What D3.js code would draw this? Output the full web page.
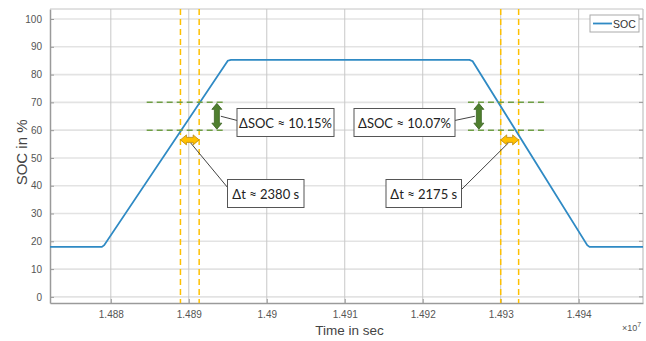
<!DOCTYPE html>
<html>
<head>
<meta charset="utf-8">
<script src="https://cdn.jsdelivr.net/npm/d3@7"></script>
<style>
  body { margin: 0; background: #fff; }
  svg { display: block; }
</style>
</head>
<body>
<div id="chart"></div>
<script>
// SOC curve, time in seconds
const socTime = [14872200, 14878850, 14879150, 14895000, 14895400, 14926000, 14926400, 14941100, 14941400, 14948250];
const socValue = [18.0, 18.0, 18.6, 85.0, 85.3, 85.3, 84.8, 18.6, 18.0, 18.0];

const xTicks = [14880000, 14890000, 14900000, 14910000, 14920000, 14930000, 14940000];
const xTickLabels = ['1.488', '1.489', '1.49', '1.491', '1.492', '1.493', '1.494'];
const yTicks = [0, 10, 20, 30, 40, 50, 60, 70, 80, 90, 100];

// measurement markers
const dtLines = [14888930, 14891330, 14930000, 14932300];
const socLevels = [60, 70];
const levelSpans = [[14884600, 14894640], [14925800, 14935900]];
const socArrowTimes = [14893600, 14927200];
const dtArrowSpans = [[14888930, 14891330], [14930000, 14932300]];
const labelSoc = ['ΔSOC ≈ 10.15%', 'ΔSOC ≈ 10.07%'];
const labelDt = ['Δt ≈ 2380 s', 'Δt ≈ 2175 s'];

const width = 646, height = 341;
const margin = { top: 9, right: 3, bottom: 38, left: 50 };

const x = d3.scaleLinear()
  .domain([14872200, 14948250])
  .range([margin.left, width - margin.right]);

const y = d3.scaleLinear()
  .domain([-2.2, 103.6])
  .range([height - margin.bottom, margin.top]);

const svg = d3.select('#chart')
  .append('svg')
  .attr('width', width)
  .attr('height', height)
  .style('font-family', 'Liberation Sans, Arial, sans-serif');

// horizontal grid
svg.append('g')
  .selectAll('line')
  .data(yTicks)
  .enter()
  .append('line')
  .attr('x1', margin.left)
  .attr('x2', width - margin.right)
  .attr('y1', d => y(d))
  .attr('y2', d => y(d))
  .attr('stroke', '#e3e3e3')
  .attr('stroke-width', 1.6);

// vertical grid
svg.append('g')
  .selectAll('line')
  .data(xTicks)
  .enter()
  .append('line')
  .attr('x1', d => x(d))
  .attr('x2', d => x(d))
  .attr('y1', margin.top)
  .attr('y2', height - margin.bottom)
  .attr('stroke', '#c8c8c8')
  .attr('stroke-width', 1);

// axes
const xAxis = d3.axisBottom(x)
  .tickValues(xTicks)
  .tickFormat((d, i) => xTickLabels[i])
  .tickSizeInner(-4)
  .tickSizeOuter(0)
  .tickPadding(8);

const yAxis = d3.axisLeft(y)
  .tickValues(yTicks)
  .tickSizeInner(-4)
  .tickSizeOuter(0)
  .tickPadding(8);

const gx = svg.append('g')
  .attr('transform', `translate(0,${height - margin.bottom})`)
  .call(xAxis);
const gy = svg.append('g')
  .attr('transform', `translate(${margin.left},0)`)
  .call(yAxis);

[gx, gy].forEach(g => {
  g.select('.domain').attr('stroke', '#9a9a9a').attr('stroke-width', 1.5);
  g.selectAll('.tick line').attr('stroke', '#9a9a9a');
  g.selectAll('.tick text').attr('fill', '#555').style('font-size', '10px');
});

// right and top box edges
svg.append('line')
  .attr('x1', width - margin.right).attr('x2', width - margin.right)
  .attr('y1', margin.top).attr('y2', height - margin.bottom)
  .attr('stroke', '#b5b5b5');
svg.append('line')
  .attr('x1', margin.left).attr('x2', width - margin.right)
  .attr('y1', margin.top).attr('y2', margin.top)
  .attr('stroke', '#c4c4c4');
svg.append('g')
  .selectAll('line')
  .data(yTicks)
  .enter()
  .append('line')
  .attr('x1', width - margin.right - 4)
  .attr('x2', width - margin.right)
  .attr('y1', d => y(d))
  .attr('y2', d => y(d))
  .attr('stroke', '#9a9a9a');

// axis labels
svg.append('text')
  .attr('x', (margin.left + width - margin.right) / 2 + 3)
  .attr('y', 335)
  .attr('text-anchor', 'middle')
  .attr('fill', '#444')
  .style('font-size', '13.5px')
  .text('Time in sec');

svg.append('text')
  .attr('transform', `translate(27,${y(52)}) rotate(-90)`)
  .attr('text-anchor', 'middle')
  .attr('fill', '#444')
  .style('font-size', '15px')
  .text('SOC in %');

const mult = svg.append('text')
  .attr('x', 622)
  .attr('y', 331)
  .attr('fill', '#555')
  .style('font-size', '9px');
mult.append('tspan').text('×10');
mult.append('tspan').attr('dy', -4).style('font-size', '7px').text('7');

// yellow dashed time lines
svg.append('g')
  .selectAll('line')
  .data(dtLines)
  .enter()
  .append('line')
  .attr('x1', d => x(d))
  .attr('x2', d => x(d))
  .attr('y1', margin.top)
  .attr('y2', height - margin.bottom)
  .attr('stroke', '#ffc000')
  .attr('stroke-width', 1.5)
  .attr('stroke-dasharray', '6,4');

// SOC line
const soc = socTime.map((t, i) => ({ t: t, v: socValue[i] }));
svg.append('path')
  .datum(soc)
  .attr('fill', 'none')
  .attr('stroke', '#2f8ac4')
  .attr('stroke-width', 1.8)
  .attr('d', d3.line().x(d => x(d.t)).y(d => y(d.v)));

// green dashed SOC levels
levelSpans.forEach(span => {
  socLevels.forEach(lv => {
    svg.append('line')
      .attr('x1', x(span[0]))
      .attr('x2', x(span[1]))
      .attr('y1', y(lv))
      .attr('y2', y(lv))
      .attr('stroke', '#6f9f45')
      .attr('stroke-width', 1.5)
      .attr('stroke-dasharray', '6,4');
  });
});

// leader lines (drawn before arrows and boxes)
function leader(x1, y1, x2, y2) {
  svg.append('line')
    .attr('x1', x1).attr('y1', y1)
    .attr('x2', x2).attr('y2', y2)
    .attr('stroke', '#444')
    .attr('stroke-width', 1);
}
leader(x(socArrowTimes[0]) + 4, y(65), 237, y(63.5));
leader(x(dtArrowSpans[0][0]) + 10, y(55.5), 228, 188);
leader(x(socArrowTimes[1]) - 4, y(65), 455, y(63.5));
leader(x(dtArrowSpans[1][1]) - 10, y(55.5), 461, 190);

// green vertical double arrow
function vArrow(t, v0, v1) {
  const cx = x(t), top = y(v1) + 1, bot = y(v0) - 1;
  const hw = 5, sw = 2.5, hh = 6;
  const pts = [
    [cx, top], [cx + hw, top + hh], [cx + sw, top + hh], [cx + sw, bot - hh],
    [cx + hw, bot - hh], [cx, bot], [cx - hw, bot - hh], [cx - sw, bot - hh],
    [cx - sw, top + hh], [cx - hw, top + hh]
  ];
  svg.append('polygon')
    .attr('points', pts.map(p => p.join(',')).join(' '))
    .attr('fill', '#4f7f2f')
    .attr('stroke', '#3b6322')
    .attr('stroke-width', 0.8);
}
socArrowTimes.forEach(t => vArrow(t, socLevels[0], socLevels[1]));

// yellow horizontal double arrow
function hArrow(t0, t1, v) {
  const l = x(t0), r = x(t1), cy = y(v);
  const hh = 5, sh = 2.5, hw = 6;
  const pts = [
    [l, cy], [l + hw, cy - hh], [l + hw, cy - sh], [r - hw, cy - sh],
    [r - hw, cy - hh], [r, cy], [r - hw, cy + hh], [r - hw, cy + sh],
    [l + hw, cy + sh], [l + hw, cy + hh]
  ];
  svg.append('polygon')
    .attr('points', pts.map(p => p.join(',')).join(' '))
    .attr('fill', '#ffc000')
    .attr('stroke', '#b8860b')
    .attr('stroke-width', 0.8);
}
dtArrowSpans.forEach(s => hArrow(s[0], s[1], 56.5));

// annotation boxes
function box(x0, y0, w, h, txt) {
  svg.append('rect')
    .attr('x', x0).attr('y', y0)
    .attr('width', w).attr('height', h)
    .attr('fill', '#fff')
    .attr('stroke', '#555')
    .attr('stroke-width', 1);
  svg.append('text')
    .attr('x', x0 + w / 2)
    .attr('y', y0 + h / 2 + 5)
    .attr('text-anchor', 'middle')
    .attr('fill', '#222')
    .style('font-family', 'Lato, Open Sans, sans-serif')
    .style('font-size', '13px')
    .text(txt);
}
box(237, 108.5, 97, 28, labelSoc[0]);
box(227.5, 179.5, 76.5, 28, labelDt[0]);
box(354, 108.5, 101, 28, labelSoc[1]);
box(386, 179.5, 75.5, 28, labelDt[1]);

// legend
svg.append('rect')
  .attr('x', 590).attr('y', 15)
  .attr('width', 49).attr('height', 17)
  .attr('fill', '#fff')
  .attr('stroke', '#aaa');
svg.append('line')
  .attr('x1', 593).attr('x2', 612)
  .attr('y1', 23.5).attr('y2', 23.5)
  .attr('stroke', '#2f8ac4')
  .attr('stroke-width', 1.8);
svg.append('text')
  .attr('x', 613).attr('y', 27.5)
  .attr('fill', '#333')
  .style('font-size', '10.5px')
  .text('SOC');
</script>
</body>
</html>
